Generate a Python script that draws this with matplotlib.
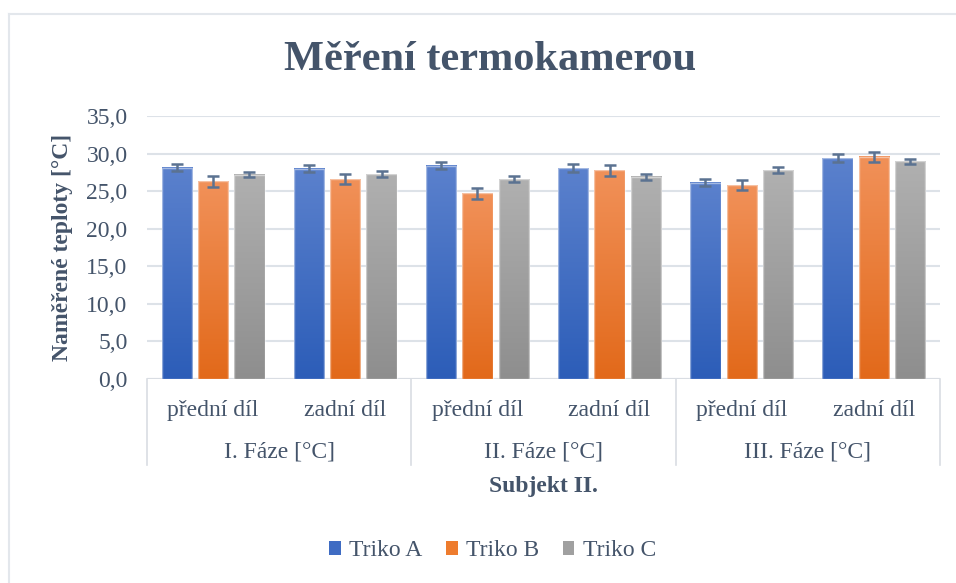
import numpy as np
import matplotlib
matplotlib.use('Agg')
import matplotlib.pyplot as plt
from matplotlib.colors import LinearSegmentedColormap
from matplotlib.patches import Patch
from matplotlib.lines import Line2D
import matplotlib.transforms as mtransforms

# data
categories = ["přední díl", "zadní díl", "přední díl", "zadní díl", "přední díl", "zadní díl"]
phases = ["I. Fáze [°C]", "II. Fáze [°C]", "III. Fáze [°C]"]
series_names = ["Triko A", "Triko B", "Triko C"]
triko_a = [28.1, 28.0, 28.4, 28.05, 26.15, 29.4]
triko_b = [26.3, 26.6, 24.7, 27.8, 25.8, 29.55]
triko_c = [27.2, 27.25, 26.6, 26.9, 27.75, 28.95]
err_a = [0.45, 0.47, 0.44, 0.50, 0.47, 0.49]
err_b = [0.69, 0.71, 0.71, 0.73, 0.71, 0.71]
err_c = [0.36, 0.38, 0.35, 0.38, 0.40, 0.38]
y_ticks = [0, 5, 10, 15, 20, 25, 30, 35]

TEXT = '#44546A'
GRID = '#DDE2E8'
# (top, bottom) gradient colours per series
gradients = [('#5B81CD', '#2C5DB8'), ('#F19159', '#E2691A'), ('#B0B0B0', '#8E8E8E')]
legend_colors = ['#3F6CC3', '#EE7C2E', '#A0A0A0']
FS = 17

plt.rcParams['font.family'] = ['Liberation Serif', 'DejaVu Serif']

fig = plt.figure(figsize=(9.56, 5.83), dpi=100)
ax = fig.add_axes([147 / 956, 1 - 379 / 583, 793 / 956, 263 / 583])

x = np.arange(len(categories))
width = 0.23
step = 0.275
values = [triko_a, triko_b, triko_c]
errors = [err_a, err_b, err_c]

for i, (vals, errs, (top, bot)) in enumerate(zip(values, errors, gradients)):
    cmap = LinearSegmentedColormap.from_list(f'g{i}', [bot, top])
    bars = ax.bar(x + (i - 1) * step, vals, width, facecolor='none',
                  edgecolor=(1, 1, 1, 0.45), linewidth=1.0, zorder=3)
    for b in bars:
        grad = np.linspace(0, 1, 256).reshape(-1, 1)
        ax.imshow(grad, cmap=cmap, origin='lower', aspect='auto', zorder=2,
                  extent=[b.get_x(), b.get_x() + b.get_width(), 0, b.get_height()])
    ax.errorbar(x + (i - 1) * step, vals, yerr=errs, fmt='none', ecolor='#5B7291',
                elinewidth=1.8, capsize=4.5, capthick=1.8, zorder=4)

ax.set_xlim(-0.5, len(categories) - 0.5)
ax.set_ylim(0, 35)
ax.set_yticks(y_ticks)
ax.set_yticklabels([f'{t:.1f}'.replace('.', ',') for t in y_ticks])
ax.tick_params(axis='y', length=0, pad=14, labelsize=FS, labelcolor=TEXT)
ax.set_xticks([])
ax.grid(axis='y', color=GRID, linewidth=1.5, zorder=0)
ax.set_axisbelow(True)
for s in ax.spines.values():
    s.set_visible(False)
ax.axhline(0, color='#D9DDE3', linewidth=1.5, zorder=1)

ax.set_ylabel('Naměřené teploty [°C]', fontsize=17, fontweight='bold', color=TEXT)
ax.yaxis.set_label_coords(-0.093, 0.5)

# multi-level category axis
trans = mtransforms.blended_transform_factory(ax.transData, ax.transAxes)
for xi, lab in zip(x, categories):
    ax.text(xi, -0.118, lab, transform=trans, ha='center', va='center',
            fontsize=FS, color=TEXT)
for k, ph in enumerate(phases):
    ax.text(2 * k + 0.5, -0.278, ph, transform=trans, ha='center', va='center',
            fontsize=FS, color=TEXT)
for xb in [-0.5, 1.5, 3.5, 5.5]:
    ax.add_line(Line2D([xb, xb], [0, -0.327], transform=trans, color='#D9DDE3',
                       linewidth=1.2, clip_on=False))
ax.text(0.5, -0.41, 'Subjekt II.', transform=ax.transAxes, ha='center', va='center',
        fontsize=FS, fontweight='bold', color=TEXT)

fig.text(0.513, 0.897, 'Měření termokamerou', ha='center', va='center',
         fontsize=30.5, fontweight='bold', color=TEXT)

handles = [Patch(facecolor=c, edgecolor='none') for c in legend_colors]
fig.legend(handles, series_names, loc='center', bbox_to_anchor=(0.515, 0.055), ncol=3,
           frameon=False, fontsize=FS, labelcolor=TEXT, handlelength=0.5,
           handleheight=0.5, handletextpad=0.35, columnspacing=1.0)

# chart frame (left and top edges visible)
fig.add_artist(Line2D([9 / 956, 9 / 956], [0, 1 - 14 / 583], transform=fig.transFigure,
                      color='#E3E7EC', linewidth=1.5))
fig.add_artist(Line2D([9 / 956, 1], [1 - 14 / 583, 1 - 14 / 583], transform=fig.transFigure,
                      color='#E3E7EC', linewidth=1.5))

fig.savefig('out.png', dpi=100)
